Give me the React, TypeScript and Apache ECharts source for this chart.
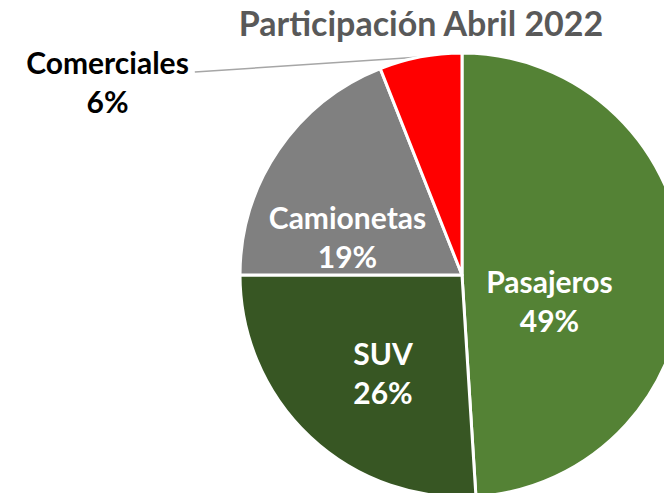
import React, { useEffect, useRef } from "react";
import * as echarts from "echarts";

const categories = ["Pasajeros", "SUV", "Camionetas", "Comerciales"];
const values = [49, 26, 19, 6];
const colors = ["#548235", "#375623", "#808080", "#FF0000"];
const titleText = "Participación Abril 2022";

// label anchor positions (layout only)
const labelPos: Record<number, [number, number]> = {
  0: [549.5, 300],
  1: [383, 372.5],
  2: [347.5, 236.5],
  3: [107.5, 81],
};

export default function App() {
  const ref = useRef<HTMLDivElement>(null);
  useEffect(() => {
    if (!ref.current) return;
    const chart = echarts.init(ref.current, undefined, { renderer: "svg" });
    const font = "Lato";
    chart.setOption({
      animation: false,
      backgroundColor: "#ffffff",
      title: {
        text: titleText,
        left: 416,
        top: 0,
        textAlign: "center",
        textStyle: { fontFamily: font, fontWeight: "bold", fontSize: 34, color: "#595959" },
      },
      series: [
        {
          type: "pie",
          center: [462, 275],
          radius: [0, 222],
          startAngle: 90,
          clockwise: true,
          avoidLabelOverlap: false,
          percentPrecision: 0,
          itemStyle: { borderColor: "#ffffff", borderWidth: 3 },
          label: {
            show: true,
            position: "inside",
            formatter: "{b}\n{d}%",
            fontFamily: font,
            fontWeight: "bold",
            fontSize: 30,
            lineHeight: 39,
            color: "#ffffff",
          },
          labelLine: { show: false },
          labelLayout: (params: any) => {
            const p = labelPos[params.dataIndex];
            const res: any = { x: p[0], y: p[1], align: "center", verticalAlign: "middle" };
            if (params.dataIndex === 3 && params.labelLinePoints) {
              const start = params.labelLinePoints[0];
              const w = params.labelRect.width;
              res.labelLinePoints = [start, [p[0] + w / 2 + 6, p[1] - 9]];
            }
            return res;
          },
          data: categories.map((name, i) => {
            const item: any = { name, value: values[i], itemStyle: { color: colors[i] } };
            if (i === 3) {
              item.label = { position: "outside", color: "#000000" };
              item.labelLine = { show: true, length: 5, length2: 5, lineStyle: { color: "#A6A6A6", width: 1.5 } };
            }
            return item;
          }),
        },
      ],
    });
    return () => chart.dispose();
  }, []);
  return (
    <div
      ref={ref}
      style={{ position: "fixed", left: 0, top: 0, width: 664, height: 493 }}
    />
  );
}
